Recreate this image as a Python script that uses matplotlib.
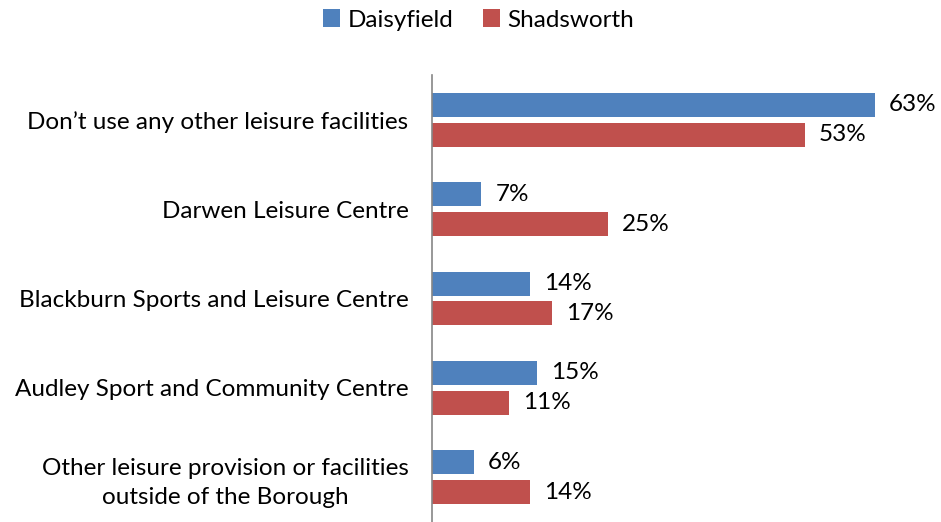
import matplotlib.pyplot as plt
import numpy as np

plt.rcParams['font.family'] = ['Lato', 'DejaVu Sans']

categories = ["Don\u2019t use any other leisure facilities",
              "Darwen Leisure Centre",
              "Blackburn Sports and Leisure Centre",
              "Audley Sport and Community Centre",
              "Other leisure provision or facilities\noutside of the Borough"]
daisyfield = [63, 7, 14, 15, 6]
shadsworth = [53, 25, 17, 11, 14]

blue = '#4F81BD'
red = '#C0504D'

W, H = 941, 522
fig = plt.figure(figsize=(W/100, H/100), dpi=100)
ax = fig.add_axes([432/W, 0, 70*7.03/W, (H-75)/H])

y = np.arange(len(categories))
h = 0.267
off = 0.167
ax.barh(y - off, daisyfield, height=h, color=blue, label='Daisyfield')
ax.barh(y + off, shadsworth, height=h, color=red, label='Shadsworth')

fs = 17.5
for i in range(len(categories)):
    ax.text(daisyfield[i] + 2.0, y[i] - off, f"{daisyfield[i]}%", va='center', ha='left', fontsize=fs)
    ax.text(shadsworth[i] + 2.0, y[i] + off, f"{shadsworth[i]}%", va='center', ha='left', fontsize=fs)

ax.set_xlim(0, 70)
ax.set_ylim(len(categories) - 0.5, -0.5)
ax.set_yticks(y)
ax.set_yticklabels(categories, fontsize=fs, ha='right', multialignment='center',
                   linespacing=1.45)
ax.tick_params(axis='y', length=0, pad=17)
ax.set_xticks([])
for s in ['top', 'right', 'bottom']:
    ax.spines[s].set_visible(False)
ax.spines['left'].set_color('#868686')
ax.spines['left'].set_linewidth(1.2)

fig.legend(loc='center', bbox_to_anchor=(0.5085, 1 - 20/H), ncol=2, frameon=False,
           fontsize=fs, handlelength=0.7, handleheight=0.7, handletextpad=0.3,
           columnspacing=1.2)

fig.savefig('out.png', dpi=100)
